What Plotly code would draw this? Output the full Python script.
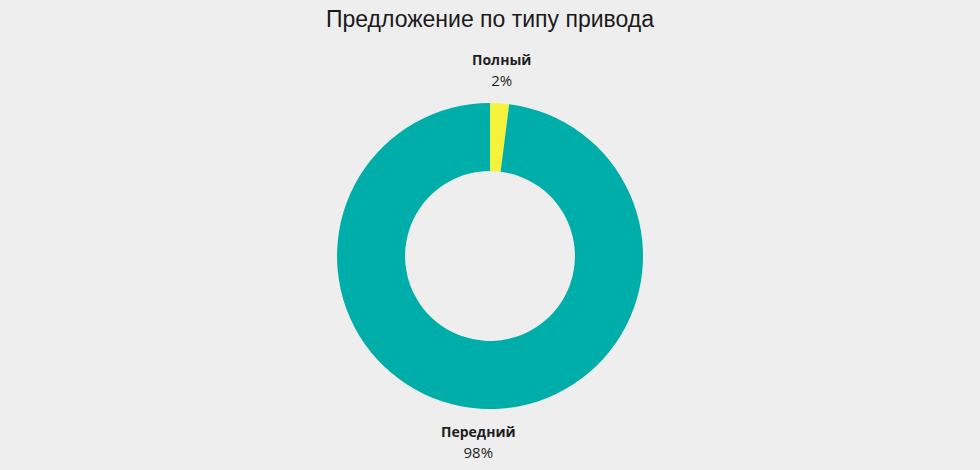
import math
import plotly.graph_objects as go

labels = ["Полный", "Передний"]
values = [2, 98]
colors = ["#f5f23c", "#00aea9"]
title_text = "Предложение по типу привода"

W, H = 980, 470
cx, cy = 490, 256          # pie centre in px
r_out = 153
label_r = 186

fig = go.Figure(go.Pie(
    labels=labels, values=values, hole=0.555, sort=False, direction="clockwise",
    rotation=0, marker=dict(colors=colors, line=dict(width=0)),
    textinfo="none", hoverinfo="label+percent", showlegend=False,
    domain=dict(x=[(cx - r_out) / W, (cx + r_out) / W],
                y=[(H - cy - r_out) / H, (H - cy + r_out) / H]),
))

total = sum(values)
acc = 0
for lab, v in zip(labels, values):
    mid = (acc + v / 2) / total * 2 * math.pi
    acc += v
    px = cx + label_r * math.sin(mid)
    py = cy - label_r * math.cos(mid)
    fig.add_annotation(
        x=px / W, y=1 - py / H, xref="paper", yref="paper",
        text=(f"<span style='font-size:14px'><b>{lab}</b></span><br>"
              f"<span style='font-size:15px'>{round(v / total * 100)}%</span>"),
        showarrow=False, xanchor="center", yanchor="middle",
        font=dict(family="Open Sans, sans-serif", size=16, color="#1e1e1e"),
        align="center",
    )

fig.update_layout(
    width=W, height=H,
    margin=dict(l=0, r=0, t=0, b=0),
    paper_bgcolor="#eeeeee", plot_bgcolor="#eeeeee",
    title=dict(text=title_text, x=0.5, xanchor="center", y=1 - 19 / H, yanchor="middle",
               yref="container",
               font=dict(family="Liberation Sans, Arial, sans-serif", size=23, color="#1a1a1a")),
)

fig.write_html("out.html")
